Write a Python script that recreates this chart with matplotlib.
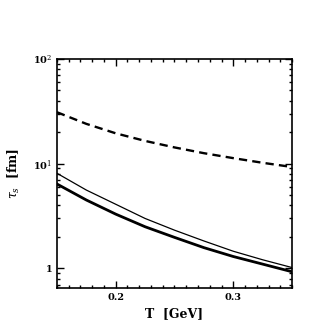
import matplotlib
matplotlib.use("Agg")
import matplotlib.pyplot as plt
from matplotlib.ticker import FixedLocator, MultipleLocator, NullFormatter

# temperature grid (GeV)
T = [0.15, 0.175, 0.2, 0.225, 0.25, 0.275, 0.3, 0.325, 0.35]

# tau_s [fm]
tau_dashed = [31, 24, 19.5, 16.5, 14.3, 12.6, 11.3, 10.2, 9.3]
tau_thin = [8.1, 5.6, 4.1, 3.0, 2.32, 1.83, 1.46, 1.21, 1.02]
tau_thick = [6.4, 4.5, 3.3, 2.5, 1.98, 1.58, 1.3, 1.1, 0.93]

x_ticks = [0.2, 0.3]
x_ticklabels = ["0.2", "0.3"]
y_ticks = [1, 10, 100]
y_ticklabels = ["1", "10$^{1}$", "10$^{2}$"]

plt.rcParams["font.family"] = "DejaVu Serif"
plt.rcParams["mathtext.fontset"] = "dejavuserif"

fig = plt.figure(figsize=(3.13, 3.33), dpi=100)
ax = fig.add_axes([0.182, 0.135, 0.751, 0.688])

ax.plot(T, tau_dashed, color="black", lw=1.7, linestyle=(0, (3.5, 2.2)))
ax.plot(T, tau_thin, color="black", lw=0.9)
ax.plot(T, tau_thick, color="black", lw=2.0)

ax.set_yscale("log")
ax.set_xlim(0.15, 0.35)
ax.set_ylim(0.65, 100)

ax.xaxis.set_major_locator(FixedLocator(x_ticks))
ax.set_xticklabels(x_ticklabels)
ax.xaxis.set_minor_locator(MultipleLocator(0.01))
ax.yaxis.set_major_locator(FixedLocator(y_ticks))
ax.set_yticklabels(y_ticklabels)
ax.yaxis.set_minor_formatter(NullFormatter())

ax.tick_params(which="both", direction="in", top=True, right=True,
               labelsize=7, width=1.0)
ax.tick_params(which="major", length=5)
ax.tick_params(which="minor", length=2.5)
for lab in ax.get_xticklabels() + ax.get_yticklabels():
    lab.set_fontweight("bold")
for sp in ax.spines.values():
    sp.set_linewidth(1.2)

ax.set_xlabel("T  [GeV]", fontsize=9, fontweight="bold", labelpad=4)
ax.set_ylabel(r"$\tau_s$  [fm]", fontsize=9, fontweight="bold", labelpad=8)

fig.savefig("out.png", dpi=100)
